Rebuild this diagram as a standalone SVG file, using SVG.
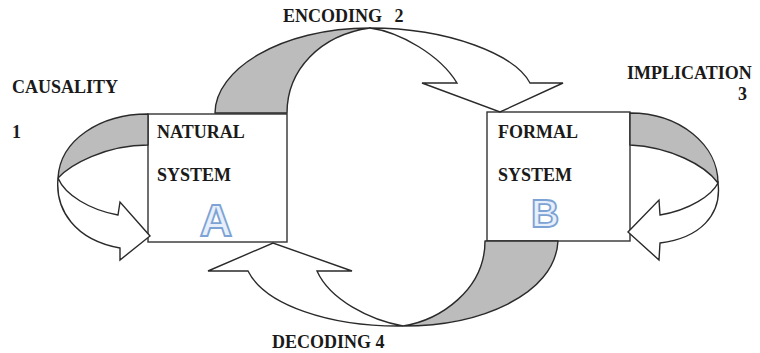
<svg xmlns="http://www.w3.org/2000/svg" width="760" height="353" viewBox="0 0 760 353">
  <style>
    .label { font-family: "Liberation Serif", "Times New Roman", serif; font-weight: bold; font-size: 18px; fill: #1a1a1a; }
    .box { fill: #ffffff; stroke: #333333; stroke-width: 1.4; }
    .band { fill: #bcbcbc; stroke: #2a2a2a; stroke-width: 1.4; stroke-linejoin: round; }
    .ribbon { fill: #ffffff; stroke: #2a2a2a; stroke-width: 1.4; stroke-linejoin: miter; }
    .big { font-family: "Liberation Sans", Arial, sans-serif; font-weight: bold; fill: #e6effa; stroke: #7da3d4; stroke-width: 1.8; text-anchor: middle; }
  </style>
  <rect width="760" height="353" fill="#ffffff"/>

  <!-- systems -->
  <g id="natural-system">
    <rect class="box" x="148" y="114" width="139" height="128"/>
    <text class="label" x="157" y="138">NATURAL</text>
    <text class="label" x="157" y="181">SYSTEM</text>
    <text class="big" x="216" y="236" font-size="45">A</text>
  </g>
  <g id="formal-system">
    <rect class="box" x="487" y="112" width="143" height="129"/>
    <text class="label" x="498" y="138">FORMAL</text>
    <text class="label" x="498" y="181">SYSTEM</text>
    <text class="big" x="545" y="227" font-size="39">B</text>
  </g>

  <!-- twisted ribbon arrows -->
  <g id="connectors">
    <!-- causality: loop on the natural system -->
    <g id="causality">
      <path class="band" d="M148,114 C100,114 60,140 58,178 C70,165 105,145 148,145 Z"/>
      <path class="ribbon" d="M58,178 C55,210 75,240 120,248 L120,260 L150,236 L120,202 L118,215 C90,210 65,195 58,178 Z"/>
    </g>
    <!-- encoding: natural to formal -->
    <g id="encoding">
      <path class="band" d="M215,113 C215,70 280,28 370,28 C320,35 287,70 287,113 Z"/>
      <path class="ribbon" d="M370,28 C450,28 515,55 530,83 L563,83 L500,112 L422,83 L457,83 C440,55 400,32 370,28 Z"/>
    </g>
    <!-- implication: loop on the formal system -->
    <g id="implication">
      <path class="band" d="M630,113 C680,113 718,145 718,183 C705,165 670,147 630,145 Z"/>
      <path class="ribbon" d="M718,183 C722,215 700,238 660,243 L659,260 L628,232 L659,200 L660,215 C690,210 712,195 718,183 Z"/>
    </g>
    <!-- decoding: formal back to natural -->
    <g id="decoding">
      <path class="band" d="M403,326 C480,326 555,295 558,241 L485,241 C485,290 440,320 403,326 Z"/>
      <path class="ribbon" d="M403,326 C330,327 265,305 248,271 L208,271 L273,243 L352,271 L317,271 C330,300 370,320 403,326 Z"/>
    </g>
  </g>

  <!-- labels -->
  <g id="labels">
    <text class="label" x="12" y="93">CAUSALITY</text>
    <text class="label" x="12" y="138">1</text>
    <text class="label" x="283" y="22" word-spacing="8">ENCODING 2</text>
    <text class="label" x="627" y="79">IMPLICATION</text>
    <text class="label" x="738" y="100">3</text>
    <text class="label" x="272" y="348">DECODING 4</text>
  </g>
</svg>
